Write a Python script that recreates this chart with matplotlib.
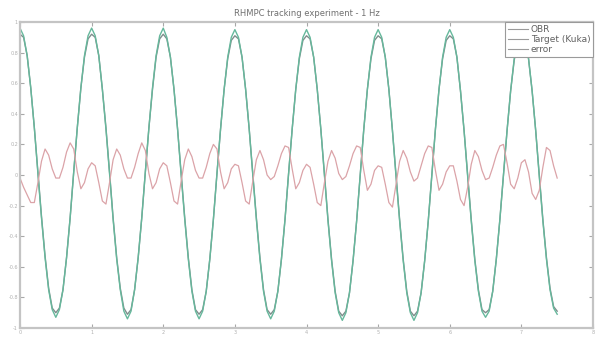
import numpy as np
import matplotlib
matplotlib.use('Agg')
import matplotlib.pyplot as plt

# time axis, one sample every 0.05 s
t = np.round(np.arange(0, 151) * 0.05, 2)

# Target (Kuka) position, read per period
target = [
    0.96, 0.91, 0.78, 0.57, 0.31, 0.01, -0.28, -0.54, -0.75, -0.88, -0.93, -0.88, -0.75, -0.54, -0.28, 0.02, 0.31, 0.57, 0.78, 0.91,
    0.96, 0.91, 0.78, 0.56, 0.30, 0.01, -0.29, -0.55, -0.75, -0.89, -0.94, -0.89, -0.75, -0.54, -0.28, 0.02, 0.31, 0.57, 0.78, 0.91,
    0.96, 0.90, 0.77, 0.56, 0.30, 0.00, -0.29, -0.55, -0.76, -0.89, -0.94, -0.89, -0.76, -0.55, -0.29, 0.01, 0.30, 0.56, 0.77, 0.90,
    0.95, 0.90, 0.77, 0.56, 0.30, 0.00, -0.29, -0.55, -0.76, -0.89, -0.94, -0.89, -0.76, -0.55, -0.29, 0.01, 0.30, 0.56, 0.77, 0.90,
    0.95, 0.90, 0.77, 0.56, 0.30, 0.00, -0.30, -0.56, -0.77, -0.90, -0.95, -0.90, -0.77, -0.56, -0.30, 0.00, 0.30, 0.56, 0.77, 0.90,
    0.95, 0.90, 0.77, 0.56, 0.29, -0.01, -0.30, -0.56, -0.77, -0.90, -0.95, -0.90, -0.77, -0.56, -0.30, 0.00, 0.30, 0.56, 0.77, 0.90,
    0.95, 0.90, 0.77, 0.55, 0.29, -0.01, -0.30, -0.56, -0.76, -0.89, -0.93, -0.89, -0.76, -0.55, -0.29, 0.00, 0.29, 0.55, 0.76, 0.89,
    0.94, 0.89, 0.76, 0.55, 0.29, -0.01, -0.30, -0.55, -0.75, -0.87, -0.91,
]

# OBR measured position, sits on top of the target, a bit flatter at the peaks
obr = [
    0.92, 0.90, 0.78, 0.57, 0.31, 0.02, -0.27, -0.53, -0.74, -0.87, -0.90, -0.87, -0.75, -0.54, -0.28, 0.02, 0.31, 0.57, 0.77, 0.89,
    0.92, 0.90, 0.78, 0.56, 0.31, 0.02, -0.28, -0.54, -0.74, -0.87, -0.91, -0.88, -0.75, -0.54, -0.28, 0.02, 0.31, 0.56, 0.77, 0.89,
    0.92, 0.89, 0.77, 0.56, 0.30, 0.01, -0.28, -0.54, -0.75, -0.88, -0.91, -0.88, -0.76, -0.55, -0.29, 0.01, 0.30, 0.56, 0.76, 0.88,
    0.91, 0.89, 0.77, 0.56, 0.30, 0.01, -0.28, -0.54, -0.75, -0.88, -0.91, -0.88, -0.76, -0.55, -0.29, 0.01, 0.30, 0.56, 0.76, 0.88,
    0.91, 0.89, 0.77, 0.56, 0.30, 0.01, -0.29, -0.55, -0.76, -0.89, -0.92, -0.89, -0.77, -0.56, -0.30, 0.00, 0.30, 0.56, 0.76, 0.88,
    0.91, 0.89, 0.77, 0.56, 0.29, 0.00, -0.29, -0.55, -0.76, -0.89, -0.92, -0.89, -0.77, -0.56, -0.30, 0.00, 0.30, 0.56, 0.76, 0.88,
    0.91, 0.89, 0.77, 0.55, 0.29, 0.00, -0.29, -0.55, -0.75, -0.88, -0.90, -0.88, -0.76, -0.55, -0.29, 0.00, 0.29, 0.55, 0.75, 0.87,
    0.90, 0.88, 0.76, 0.55, 0.29, 0.00, -0.29, -0.54, -0.74, -0.86, -0.89,
]

# tracking error
error = [
    -0.02, -0.08, -0.13, -0.18, -0.18, -0.05, 0.09, 0.17, 0.13, 0.04, -0.02, -0.02, 0.05, 0.15, 0.21, 0.17, 0.02, -0.09, -0.05, 0.04,
    0.08, 0.06, -0.05, -0.17, -0.19, -0.05, 0.10, 0.17, 0.13, 0.04, -0.02, -0.02, 0.05, 0.14, 0.21, 0.16, 0.01, -0.09, -0.05, 0.04,
    0.08, 0.06, -0.05, -0.17, -0.19, -0.04, 0.10, 0.17, 0.12, 0.03, -0.02, -0.02, 0.05, 0.14, 0.20, 0.17, 0.02, -0.09, -0.05, 0.04,
    0.07, 0.06, -0.05, -0.17, -0.19, -0.04, 0.10, 0.16, 0.10, 0.00, -0.03, -0.01, 0.06, 0.14, 0.19, 0.18, 0.04, -0.09, -0.05, 0.03,
    0.07, 0.05, -0.06, -0.18, -0.20, -0.05, 0.09, 0.16, 0.11, 0.01, -0.03, -0.01, 0.06, 0.14, 0.19, 0.18, 0.03, -0.10, -0.06, 0.03,
    0.06, 0.05, -0.06, -0.18, -0.21, -0.06, 0.09, 0.16, 0.11, 0.02, -0.04, -0.02, 0.06, 0.14, 0.19, 0.18, 0.03, -0.10, -0.06, 0.02,
    0.06, 0.06, -0.04, -0.16, -0.20, -0.08, 0.07, 0.16, 0.12, 0.03, -0.03, -0.02, 0.05, 0.13, 0.19, 0.20, 0.08, -0.06, -0.09, -0.02,
    0.08, 0.10, 0.02, -0.12, -0.16, -0.10, 0.05, 0.18, 0.16, 0.06, -0.02,
]

xticks = [0, 1, 2, 3, 4, 5, 6, 7, 8]
yticks = [-1, -0.8, -0.6, -0.4, -0.2, 0, 0.2, 0.4, 0.6, 0.8, 1]

fig = plt.figure(figsize=(5.95, 3.41), dpi=100)
ax = fig.add_axes([20 / 595, 13 / 341, 573 / 595, 306 / 341])

ax.plot(t, obr, color='#7f8e8c', lw=1.0, label='OBR')
ax.plot(t, target, color='#66b89c', lw=1.0, label='Target (Kuka)')
ax.plot(t, error, color='#dba3a8', lw=0.9, label='error')

ax.set_xlim(0, 8)
ax.set_ylim(-1, 1)
ax.set_xticks(xticks)
ax.set_yticks(yticks)
ax.set_xticklabels([str(v) for v in xticks])
ax.set_yticklabels([('%g' % v) for v in yticks])
ax.tick_params(direction='in', length=3, width=0.8, colors='#a8a8a8',
               labelsize=3.5, labelcolor='#b0b0b0', top=True, right=True, pad=1.5)
for s in ax.spines.values():
    s.set_color('#c4c4c4')
    s.set_linewidth(1.6)

ax.set_title('RHMPC tracking experiment - 1 Hz', fontsize=6, color='#707070', pad=4)

leg = ax.legend(loc='upper right', fontsize=6.5, handlelength=2.2, borderaxespad=0,
                fancybox=False, framealpha=1, edgecolor='#9a9a9a', borderpad=0.3,
                labelspacing=0.15, handletextpad=0.3)
leg.get_frame().set_linewidth(0.8)
for txt in leg.get_texts():
    txt.set_color('#606060')
for h in leg.get_lines():
    h.set_color('#9a9a9a')
    h.set_linewidth(0.8)

fig.savefig('out.png', dpi=100)
